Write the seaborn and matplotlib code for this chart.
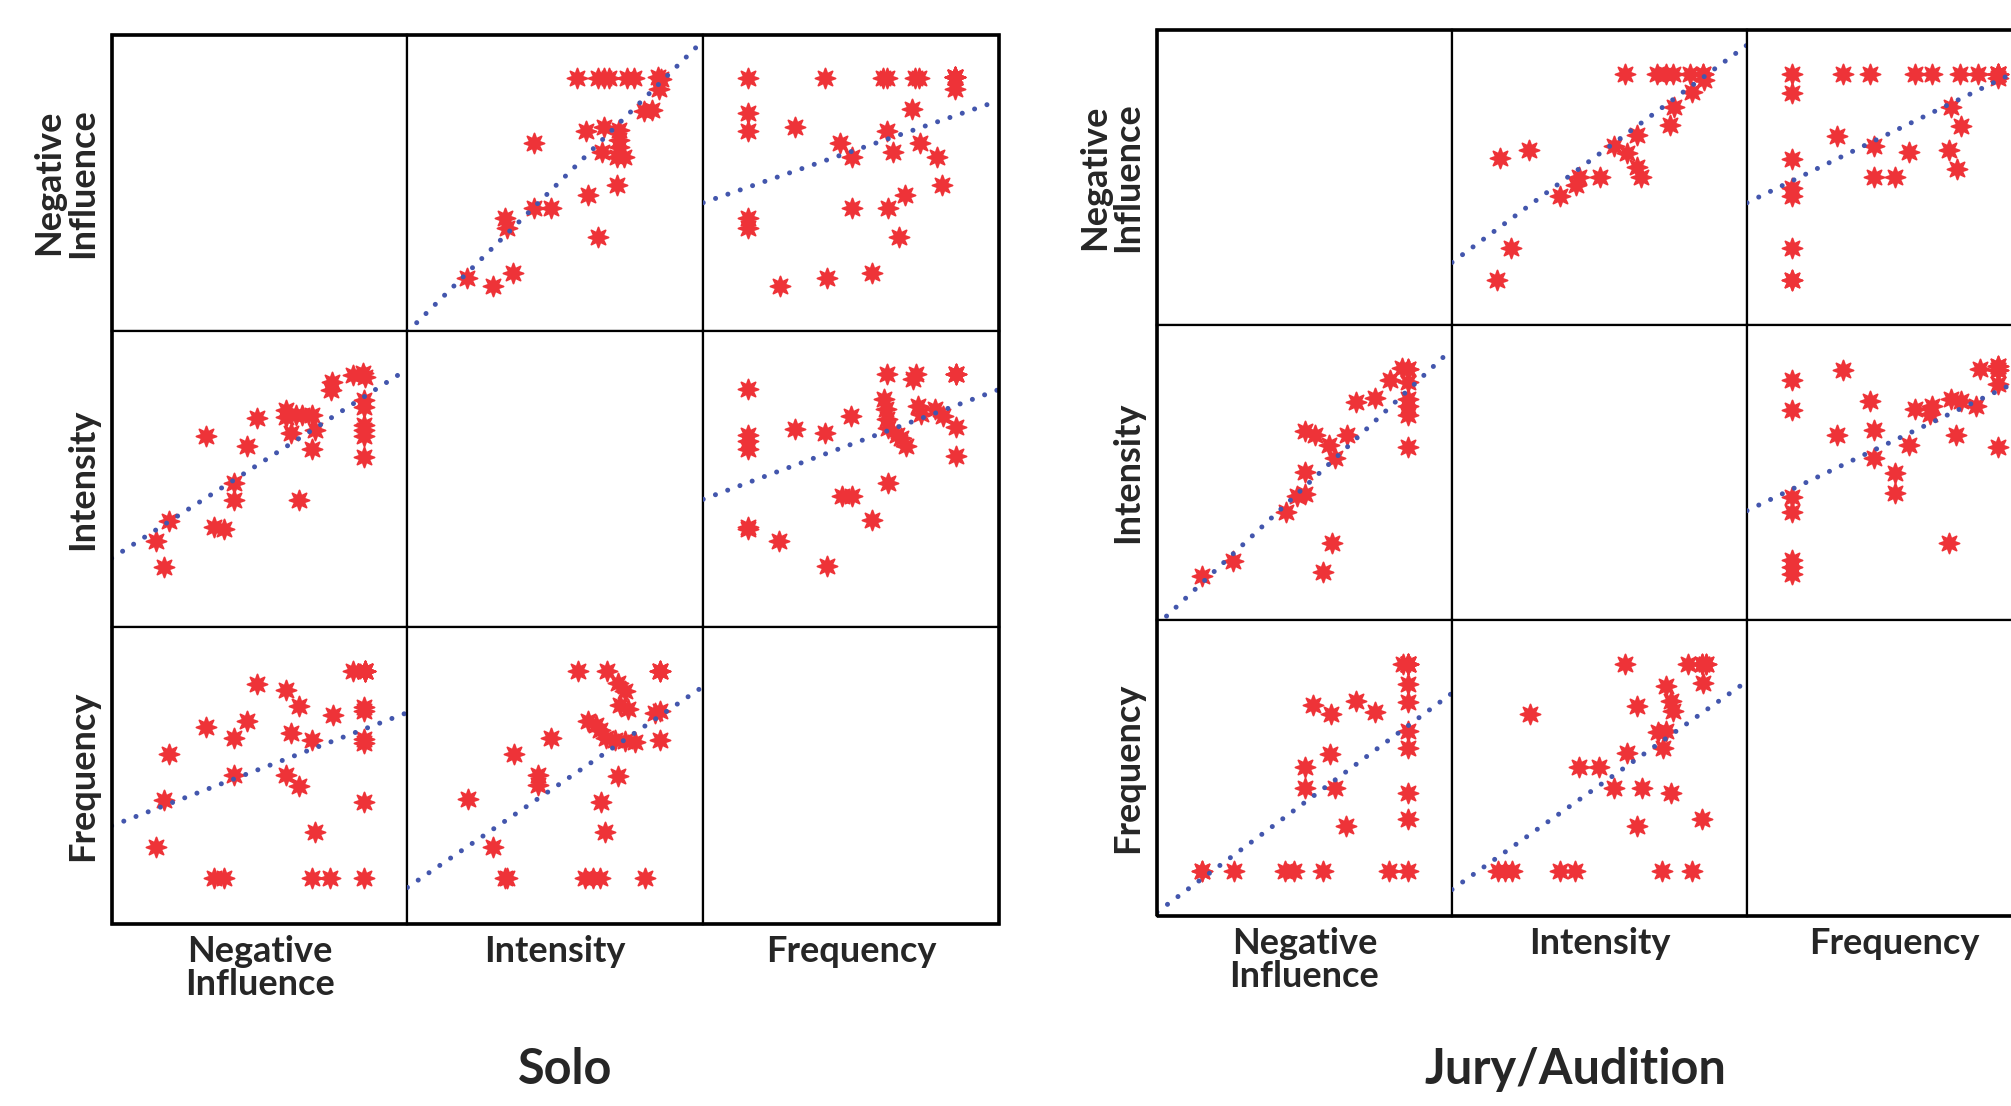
import matplotlib
matplotlib.use("Agg")
import matplotlib.pyplot as plt
import seaborn as sns
import pandas as pd
from matplotlib.patches import Rectangle

# Variables of the scatterplot matrix (no ticks in the original, values on a 0-10 panel scale)
VARS = ["ni", "int", "freq"]
LABELS = {"ni": "Negative\nInfluence", "int": "Intensity", "freq": "Frequency"}

# ---------------- Solo ----------------
# Negative Influence vs Intensity
solo_ni_int_int = [5.75, 6.46, 6.65, 6.82, 7.42, 7.67, 8.46, 8.57, 8.51, 8.00, 8.26, 6.03, 6.65, 7.16, 7.16,
                   7.16, 6.57, 7.10, 7.33, 4.28, 7.07, 6.11, 4.28, 4.85, 3.30, 3.38, 6.46, 2.03, 2.90, 3.57]
solo_ni_int_ni = [8.53, 8.53, 8.53, 8.53, 8.53, 8.53, 8.57, 8.50, 8.16, 7.41, 7.46, 6.76, 6.88, 6.79, 6.45,
                  6.22, 6.05, 5.88, 5.88, 6.34, 4.93, 4.57, 4.14, 4.14, 3.80, 3.46, 3.18, 1.77, 1.51, 1.94]
# Negative Influence vs Frequency (overlapping points at the top right repeated)
solo_ni_freq_freq = [1.52, 4.11, 6.09, 6.23, 7.16, 7.30, 8.51, 8.51, 8.51, 8.51, 8.51, 8.51, 1.52, 1.52,
                     3.10, 7.05, 6.20, 4.64, 5.02, 6.43, 7.33, 7.89, 8.08, 6.82, 5.02, 6.26, 1.52, 1.52,
                     6.62, 2.59, 4.17, 5.72]
solo_ni_freq_ni = [8.53, 8.53, 8.53, 8.53, 8.53, 8.53, 8.57, 8.57, 8.57, 8.57, 8.57, 8.16, 7.37, 6.76,
                   6.88, 7.49, 6.76, 6.34, 5.88, 6.05, 6.34, 5.88, 4.93, 4.57, 4.14, 4.14, 3.80, 3.46,
                   3.18, 1.51, 1.77, 1.94]
# Intensity vs Frequency
solo_int_freq_freq = [1.52, 1.52, 1.52, 1.52, 1.52, 1.52, 2.57, 3.10, 4.11, 4.19, 4.99, 4.68, 5.02, 5.72, 6.26,
                      6.20, 6.12, 6.17, 6.20, 6.26, 6.54, 6.69, 6.84, 7.10, 7.18, 7.25, 7.36, 7.84, 8.12,
                      8.53, 8.53, 8.53, 8.53, 8.53]
solo_int_freq_int = [8.03, 6.50, 6.28, 6.02, 3.38, 3.30, 2.90, 6.69, 6.54, 2.05, 7.12, 4.42, 4.42, 3.61, 4.87,
                     8.53, 7.69, 7.35, 7.01, 6.73, 6.50, 6.39, 6.11, 8.37, 8.53, 7.46, 7.18, 7.35, 7.12,
                     8.53, 8.53, 8.53, 6.76, 5.77]

# ---------------- Jury/Audition ----------------
jury_ni_int_int = [5.85, 6.95, 7.27, 7.50, 8.06, 8.50, 8.50, 8.53, 8.15, 7.53, 7.40, 6.27, 5.48, 5.93, 6.27,
                   6.40, 5.01, 4.29, 4.20, 3.67, 1.62, 2.60, 2.00, 1.51]
jury_ni_int_ni = [8.51, 8.51, 8.51, 8.51, 8.51, 8.51, 8.51, 8.30, 7.89, 7.38, 6.76, 6.43, 6.05, 5.83, 5.36,
                  5.02, 5.02, 5.02, 4.74, 4.36, 5.64, 5.92, 2.59, 1.52]
jury_ni_freq_ni = [1.51, 1.51, 2.62, 4.35, 4.65, 5.63, 7.86, 8.50, 8.50, 8.50, 8.50, 8.50, 8.50, 8.50, 8.50,
                   8.50, 8.50, 8.50, 8.35, 5.29, 5.91, 6.75, 7.38, 5.85, 5.01, 5.01, 6.05, 6.39]
jury_ni_freq_freq = [1.52, 1.52, 1.52, 1.52, 1.52, 1.52, 1.52, 1.52, 3.27, 4.17, 5.69, 6.26, 7.22, 7.84,
                     8.51, 8.51, 8.51, 8.51, 8.51, 7.12, 6.84, 7.27, 6.91, 5.49, 5.02, 4.32, 4.32, 3.04]
jury_int_freq_int = [1.56, 1.80, 2.03, 3.66, 4.17, 7.13, 8.15, 2.63, 5.86, 8.00, 8.46, 8.46, 8.62, 8.62,
                     8.51, 7.24, 7.41, 7.50, 6.26, 6.99, 7.25, 7.16, 5.92, 4.32, 4.99, 5.50, 6.43, 7.41,
                     6.26, 8.49]
jury_int_freq_freq = [1.52, 1.52, 1.52, 1.52, 1.52, 1.52, 1.52, 6.84, 8.51, 8.51, 8.51, 8.51, 8.51, 8.51,
                      7.89, 7.76, 7.27, 6.93, 7.10, 6.22, 6.26, 5.69, 5.50, 5.02, 5.02, 4.32, 4.32, 4.17,
                      3.04, 3.27]


def make_pairs(ni_int, ni_freq, int_freq):
    return {
        ("ni", "int"): pd.DataFrame({"ni": ni_int[0], "int": ni_int[1]}),
        ("ni", "freq"): pd.DataFrame({"ni": ni_freq[0], "freq": ni_freq[1]}),
        ("int", "freq"): pd.DataFrame({"int": int_freq[0], "freq": int_freq[1]}),
    }


solo_pairs = make_pairs((solo_ni_int_ni, solo_ni_int_int),
                        (solo_ni_freq_ni, solo_ni_freq_freq),
                        (solo_int_freq_int, solo_int_freq_freq))
jury_pairs = make_pairs((jury_ni_int_ni, jury_ni_int_int),
                        (jury_ni_freq_ni, jury_ni_freq_freq),
                        (jury_int_freq_int, jury_int_freq_freq))

# Styling
sns.set_style("white")
plt.rcParams["font.family"] = ["Lato", "DejaVu Sans"]

STAR_COLOR = "#ee3338"
LINE_COLOR = "#4356ad"
W, H = 2011, 1106

fig = plt.figure(figsize=(W / 100, H / 100), dpi=100)


def get_pair(pairs, a, b):
    if (a, b) in pairs:
        return pairs[(a, b)]
    return pairs[(b, a)]


def draw_group(pairs, left, top, cw, ch):
    for i, yv in enumerate(VARS):
        for j, xv in enumerate(VARS):
            ax = fig.add_axes([(left + j * cw) / W, 1 - (top + (i + 1) * ch) / H, cw / W, ch / H])
            ax.set_xlim(0, 10)
            ax.set_ylim(0, 10)
            if i != j:
                df = get_pair(pairs, xv, yv)
                sns.scatterplot(data=df, x=xv, y=yv, ax=ax, marker=(8, 1, 0), s=210,
                                color=STAR_COLOR, edgecolor=STAR_COLOR, linewidth=1.3, zorder=2)
                sns.regplot(data=df, x=xv, y=yv, ax=ax, scatter=False, ci=None, truncate=False,
                            line_kws=dict(color=LINE_COLOR, lw=3.6, linestyle=(0, (0.01, 2.6)),
                                          dash_capstyle="round", zorder=3))
            ax.set_xlim(0, 10)
            ax.set_ylim(0, 10)
            ax.set_xticks([])
            ax.set_yticks([])
            ax.set_xlabel(LABELS[xv] if i == 2 else "", fontsize=26, weight="bold",
                          labelpad=8, linespacing=1.02)
            ax.set_ylabel(LABELS[yv] if j == 0 else "", fontsize=26, weight="bold",
                          labelpad=9, linespacing=1.02)
            for sp in ax.spines.values():
                sp.set_linewidth(1.6)
                sp.set_color("black")
    fig.patches.append(Rectangle((left / W, 1 - (top + 3 * ch) / H), 3 * cw / W, 3 * ch / H,
                                 transform=fig.transFigure, fill=False, lw=2.6,
                                 edgecolor="black", zorder=10))


draw_group(solo_pairs, 111.6, 34.6, 295.8, 296.3)
draw_group(jury_pairs, 1157, 29.5, 295.0, 295.4)

fig.text(565 / W, 1 - 1069 / H, "Solo", ha="center", va="center", fontsize=35, weight="bold")
fig.text(1575 / W, 1 - 1069 / H, "Jury/Audition", ha="center", va="center", fontsize=35, weight="bold")

fig.savefig("out.png", dpi=100, facecolor="white")
